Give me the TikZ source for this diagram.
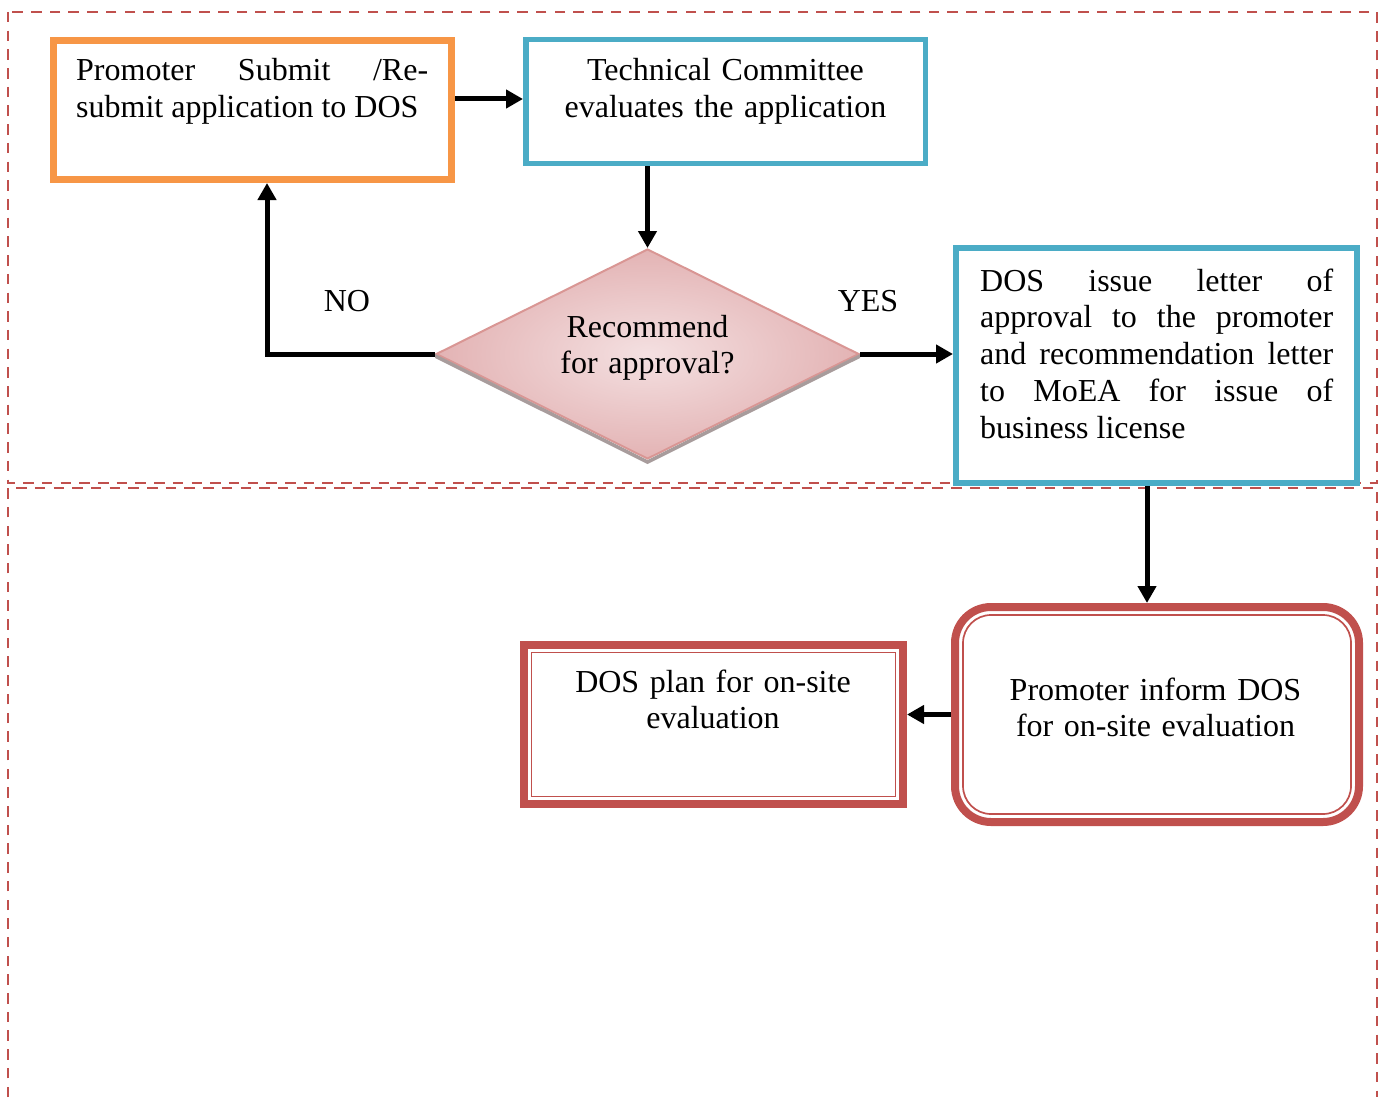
\documentclass[tikz,border=0pt]{standalone}
\usepackage{fontspec}
\setmainfont{Liberation Serif}
\usetikzlibrary{shapes.geometric,arrows.meta,calc}
\definecolor{lanered}{HTML}{C0504D}
\definecolor{orng}{HTML}{F79646}
\definecolor{aqua}{HTML}{4BACC6}
\definecolor{dred}{HTML}{C0504D}
\definecolor{dfillA}{HTML}{F4E0E1}
\definecolor{dfillB}{HTML}{E3B3B4}
\definecolor{dborder}{HTML}{D99694}
\definecolor{shad}{HTML}{A89C9C}
\tolerance=10000
\hbadness=10000
\begin{document}
\begin{tikzpicture}[x=1pt,y=1pt,
  lane/.style={draw=lanered, line width=2.5pt, dash pattern=on 10.5pt off 8.2pt},
  box/.style={draw, rectangle, inner sep=0pt},
  txt/.style={inner sep=0pt, font=\fontsize{32}{36.8}\selectfont},
  arr/.style={line width=5pt, -{Triangle[length=17pt,width=18pt]}},
  thinline/.style={draw=dred, line width=1.7pt},
]
\useasboundingbox (0,0) rectangle (1383,-1097);

% swim lanes
\draw[lane] (8,-12) rectangle (1377,-483);
\draw[lane] (8,-1097) -- (8,-488) -- (1377,-488) -- (1377,-1097);

% boxes
\node[box, draw=orng, line width=7pt, minimum width=398pt, minimum height=139pt] (sub) at (252.5,-110) {};
\node[box, draw=aqua, line width=5.5pt, minimum width=399.5pt, minimum height=123.5pt] (tc) at (725.5,-101.5) {};
\node[diamond, aspect=2, draw=dborder, line width=2pt, shading=radial, inner color=dfillA, outer color=dfillB,
      minimum width=423pt, minimum height=210pt, inner sep=0pt] (dec) at (647.5,-354) {};
\fill[shad] (dec.west) -- (dec.south) -- (dec.east) -- ([yshift=-4pt]dec.east) -- ([yshift=-4pt]dec.south) -- ([yshift=-4pt]dec.west) -- cycle;
\node[box, draw=aqua, line width=6pt, minimum width=401pt, minimum height=235pt] (dos) at (1156.5,-365.5) {};
\node[box, draw=dred, line width=8pt, rounded corners=36pt, minimum width=404pt, minimum height=215pt] (inf) at (1157,-714.5) {};
\draw[thinline, rounded corners=28pt] ($(inf.north west)+(12,-12)$) rectangle ($(inf.south east)+(-12,12)$);
\node[box, draw=dred, line width=8pt, minimum width=379pt, minimum height=159pt] (plan) at (713.5,-724.5) {};
\draw[thinline] ($(plan.north west)+(11.5,-11.5)$) rectangle ($(plan.south east)+(-11.5,11.5)$);

% texts
\node[txt, anchor=base west, text width=352pt, align=justify] (subT) at (76,-81) {Promoter Submit /Re-\linebreak submit application to DOS};
\node[txt, anchor=base, text width=380pt, align=center] (tcT) at (725.5,-81) {Technical Committee\\evaluates the application};
\node[txt, anchor=base, text width=220pt, align=center] (decT) at (647.5,-337) {Recommend\\for approval?};
\node[txt, anchor=base west, text width=353pt, align=justify] (dosT) at (980,-291) {DOS issue letter of\linebreak approval to the promoter\linebreak and recommendation letter\linebreak to MoEA for issue of\linebreak business license};
\node[txt, anchor=base, text width=380pt, align=center] (infT) at (1155.5,-700) {Promoter inform DOS\\for on-site evaluation};
\node[txt, anchor=base, text width=360pt, align=center] (planT) at (713,-692) {DOS plan for on-site\\evaluation};
\node[txt, anchor=base] (noT) at (347,-311) {NO};
\node[txt, anchor=base] (yesT) at (868,-311) {YES};

% connectors
\coordinate (a1) at ([yshift=11pt]sub.east);
\draw[arr] (a1) -- (a1 -| tc.west);
\draw[arr] (dec.north |- tc.south) -- (dec.north);
\coordinate (nb) at ([xshift=14.5pt]sub.south);
\draw[arr] (dec.west) -| (nb);
\draw[arr] (dec.east) -- (dec.east -| dos.west);
\coordinate (ds) at ([xshift=-9.5pt]dos.south);
\draw[arr] (ds) -- (ds |- inf.north);
\draw[arr] (inf.west) -- (inf.west -| plan.east);
\end{tikzpicture}
\end{document}
